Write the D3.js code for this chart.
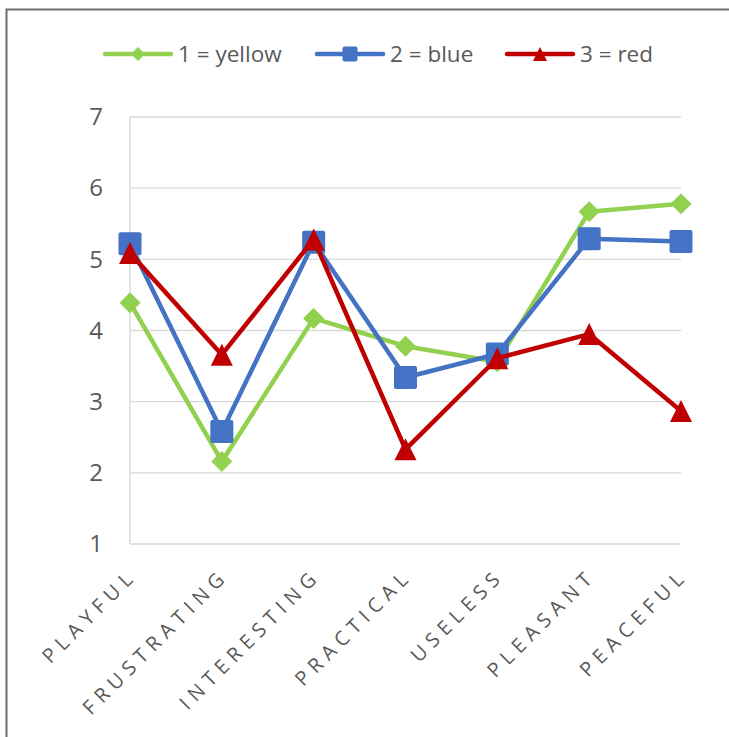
<!DOCTYPE html>
<html>
<head>
<meta charset="utf-8">
<script src="https://cdn.jsdelivr.net/npm/d3@7"></script>
<style>
  html, body { margin: 0; padding: 0; background: #fff; }
  svg { display: block; }
  text { font-family: "Open Sans", "Noto Sans", sans-serif; fill: #595959; }
</style>
</head>
<body>
<svg id="chart" width="729" height="737"></svg>
<script>
// Semantic-differential ratings for the three colour conditions
const categories = ["PLAYFUL", "FRUSTRATING", "INTERESTING", "PRACTICAL", "USELESS", "PLEASANT", "PEACEFUL"];
const yellowValues = [4.39, 2.16, 4.17, 3.78, 3.56, 5.67, 5.78];
const blueValues   = [5.22, 2.58, 5.24, 3.34, 3.67, 5.29, 5.25];
const redValues    = [5.09, 3.66, 5.28, 2.33, 3.61, 3.95, 2.87];
const seriesNames  = ["1 = yellow", "2 = blue", "3 = red"];
const yTicks = [1, 2, 3, 4, 5, 6, 7];

const series = [
  { name: seriesNames[0], values: yellowValues, color: "#92D050", marker: "diamond" },
  { name: seriesNames[1], values: blueValues,   color: "#4472C4", marker: "square" },
  { name: seriesNames[2], values: redValues,    color: "#C00000", marker: "triangle" }
];

const svg = d3.select("#chart");

// outer frame
svg.append("rect")
  .attr("x", 6.5).attr("y", 9.5)
  .attr("width", 900).attr("height", 900)
  .attr("fill", "none").attr("stroke", "#6e6e6e").attr("stroke-width", 2);

const plotLeft = 130, plotRight = 681, plotTop = 117, plotBottom = 544;

const x = d3.scalePoint().domain(categories).range([plotLeft, plotRight]).padding(0);
const y = d3.scaleLinear().domain([1, 7]).range([plotBottom, plotTop]);

// horizontal gridlines
svg.append("g").selectAll("line").data(yTicks).join("line")
  .attr("x1", plotLeft).attr("x2", plotRight)
  .attr("y1", d => y(d)).attr("y2", d => y(d))
  .attr("stroke", "#d9d9d9").attr("stroke-width", 1.3);

// vertical axis line
svg.append("line")
  .attr("x1", plotLeft).attr("x2", plotLeft).attr("y1", plotTop).attr("y2", plotBottom)
  .attr("stroke", "#d9d9d9").attr("stroke-width", 1.3);

// y axis labels
const yAxis = d3.axisLeft(y).tickValues(yTicks).tickSize(0).tickPadding(0).tickFormat(d3.format("d"));
const gy = svg.append("g").attr("transform", `translate(${plotLeft - 27},0)`).call(yAxis);
gy.select(".domain").remove();
gy.selectAll("text")
  .attr("font-size", 24).attr("fill", "#595959")
  .attr("font-family", "'Open Sans', sans-serif");

// x axis labels, rotated
svg.append("g").selectAll("text").data(categories).join("text")
  .attr("transform", d => `translate(${x(d) + 8},${plotBottom + 33}) rotate(-45)`)
  .attr("text-anchor", "end")
  .attr("font-size", 20)
  .attr("letter-spacing", 6)
  .text(d => d);

function drawMarker(g, type, cx, cy, color, s) {
  const h = s / 2;
  if (type === "square") {
    g.append("rect")
      .attr("x", cx - h).attr("y", cy - h)
      .attr("width", s).attr("height", s).attr("rx", 2)
      .attr("fill", color);
  } else if (type === "diamond") {
    g.append("path")
      .attr("d", `M${cx},${cy - h}L${cx + h},${cy}L${cx},${cy + h}L${cx - h},${cy}Z`)
      .attr("fill", color).attr("stroke", color).attr("stroke-width", 1).attr("stroke-linejoin", "round");
  } else {
    g.append("path")
      .attr("d", `M${cx},${cy - h}L${cx + h},${cy + h}L${cx - h},${cy + h}Z`)
      .attr("fill", color);
  }
}

const markerSize = { diamond: 20, square: 23, triangle: 22 };

const line = d3.line().x((d, i) => x(categories[i])).y(d => y(d));

series.forEach(s => {
  const g = svg.append("g");
  g.append("path")
    .attr("d", line(s.values))
    .attr("fill", "none").attr("stroke", s.color)
    .attr("stroke-width", 4.5).attr("stroke-linejoin", "round").attr("stroke-linecap", "round");
  s.values.forEach((v, i) => drawMarker(g, s.marker, x(categories[i]), y(v), s.color, markerSize[s.marker]));
});

// legend
const legendX = [105, 317, 507];
const legendY = 54;
const legendSize = { diamond: 13, square: 15, triangle: 14 };
series.forEach((s, i) => {
  const g = svg.append("g");
  g.append("line")
    .attr("x1", legendX[i]).attr("x2", legendX[i] + 66)
    .attr("y1", legendY).attr("y2", legendY)
    .attr("stroke", s.color).attr("stroke-width", 4.5).attr("stroke-linecap", "round");
  drawMarker(g, s.marker, legendX[i] + 33, legendY, s.color, legendSize[s.marker]);
  g.append("text")
    .attr("x", legendX[i] + 73).attr("y", legendY)
    .attr("dy", "0.36em")
    .attr("font-size", 22.5)
    .text(s.name);
});
</script>
</body>
</html>
